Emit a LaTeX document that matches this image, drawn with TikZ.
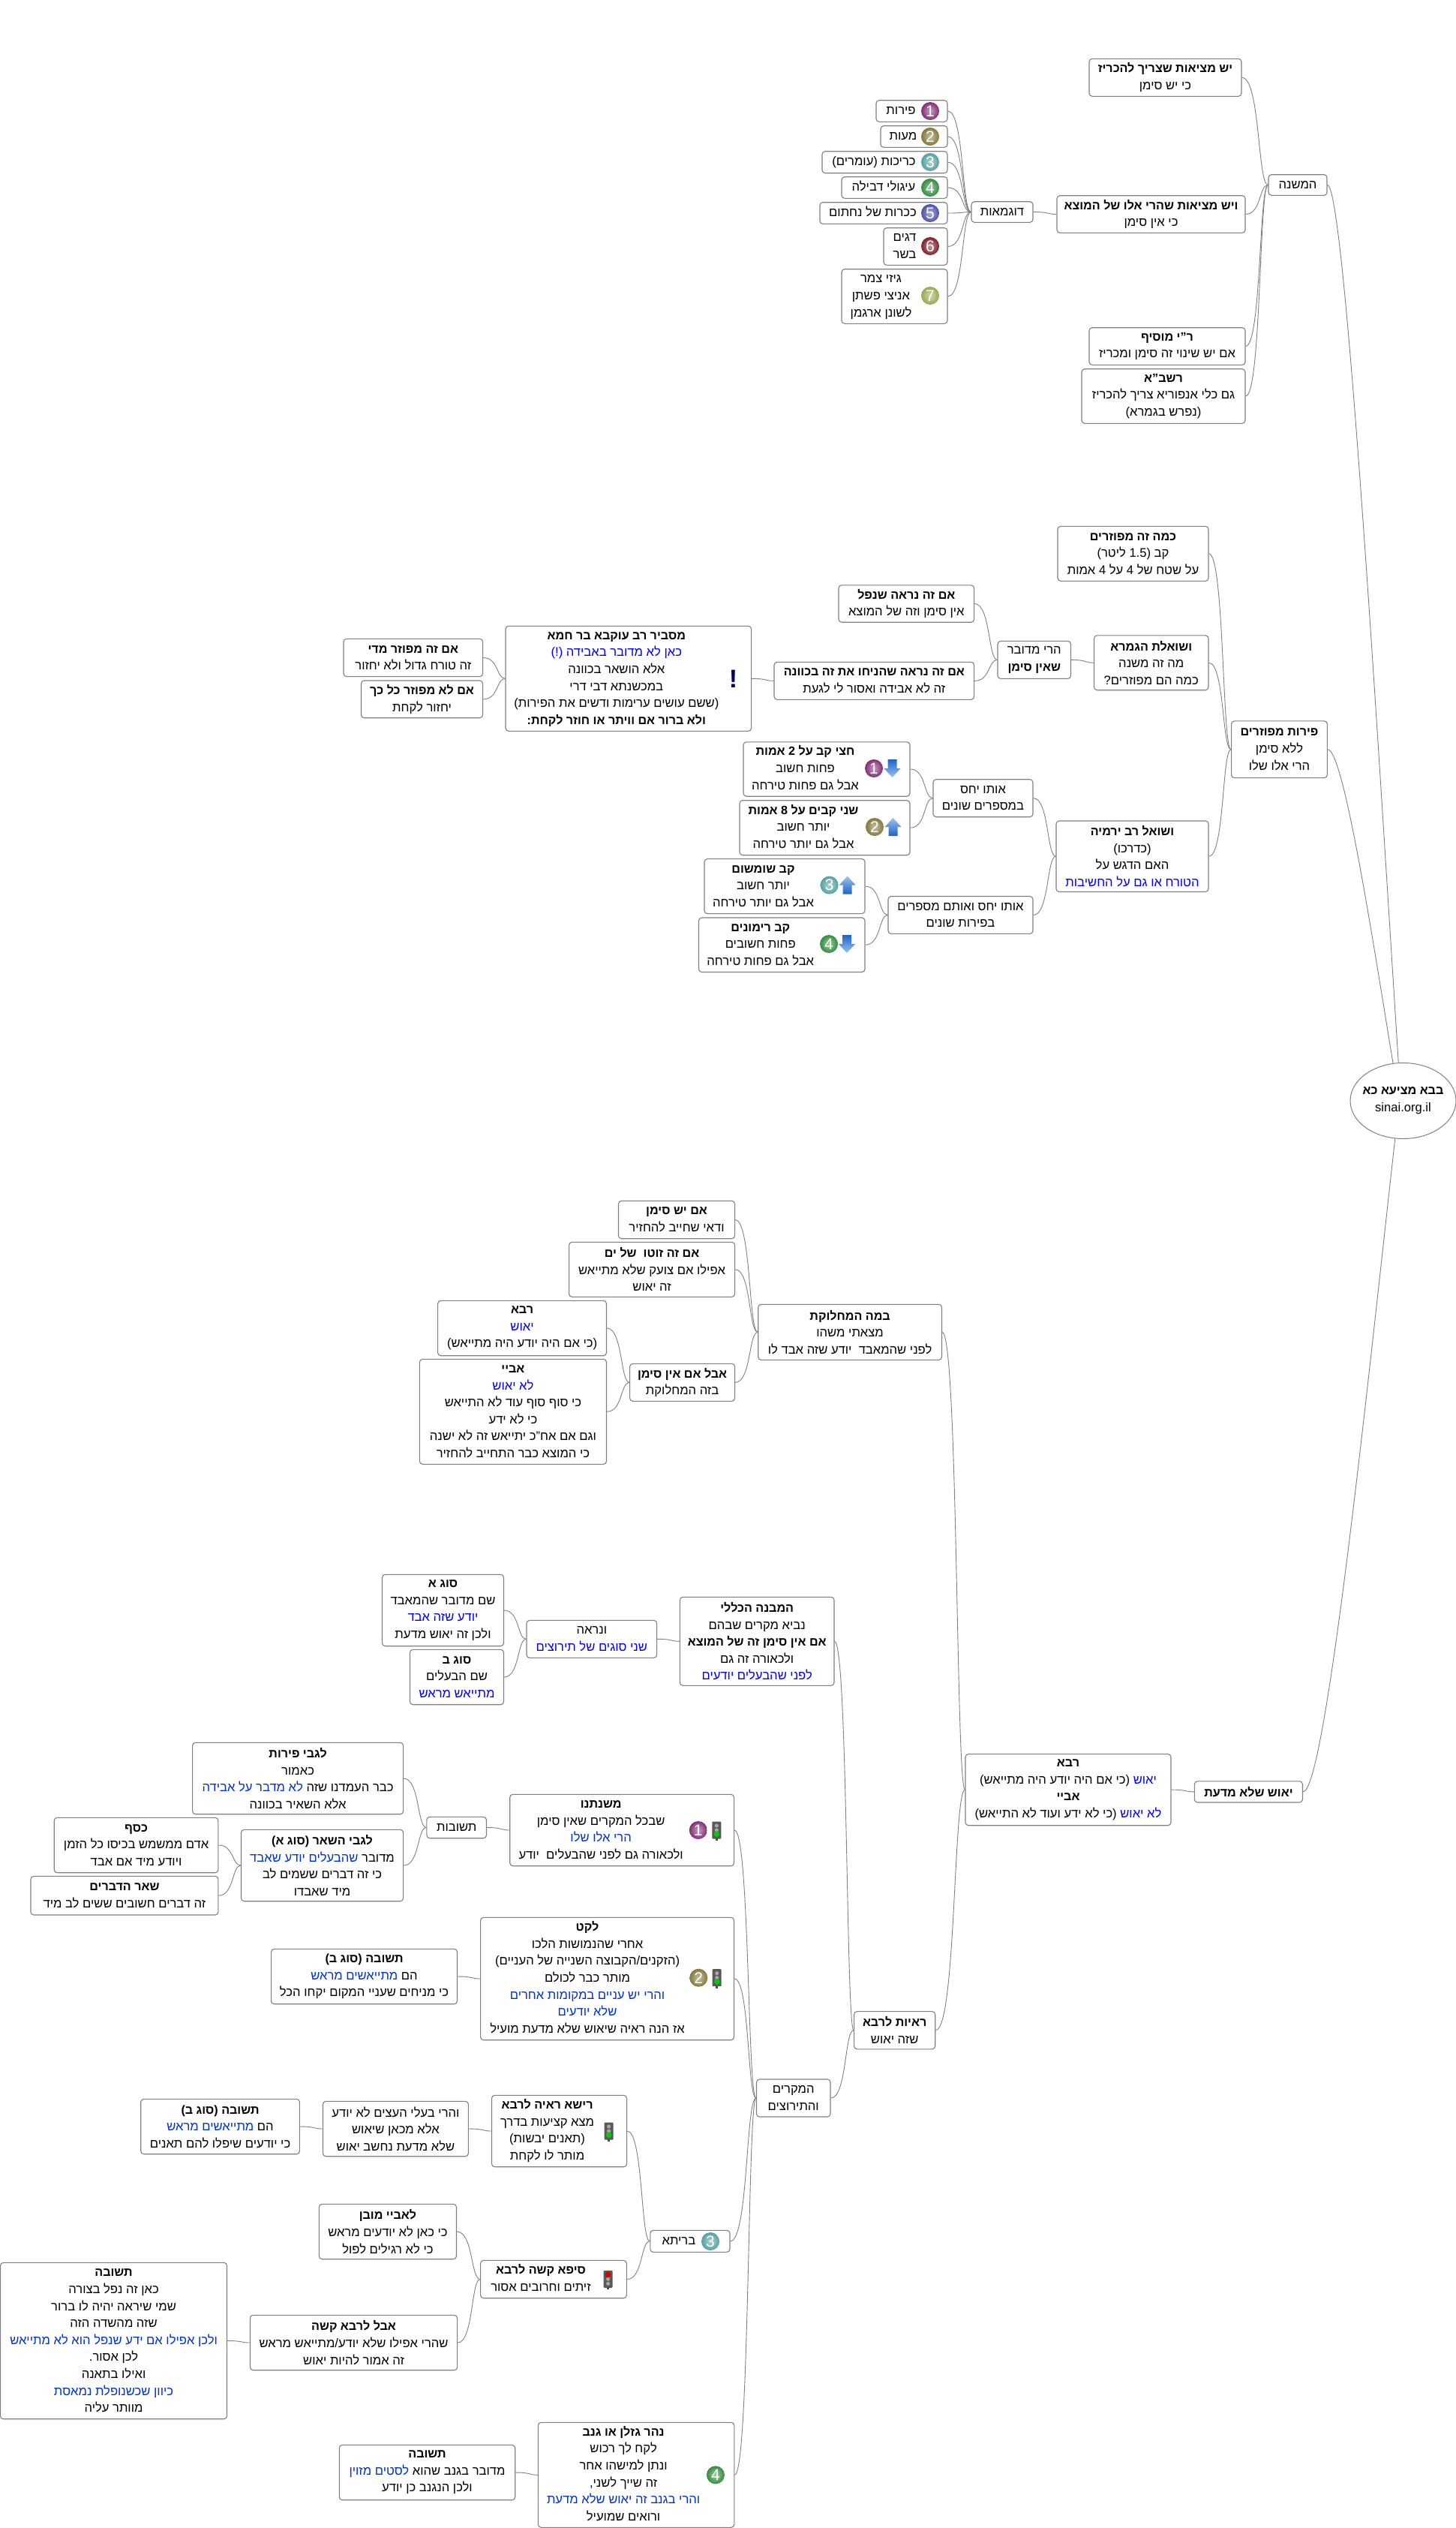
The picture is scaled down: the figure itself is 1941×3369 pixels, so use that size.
\documentclass[tikz,border=0pt]{standalone}
\usepackage{fontspec}
\usepackage{xcolor}
\usetikzlibrary{calc,shapes.geometric}
\setmainfont{Liberation Sans}[Script=Hebrew]
\newfontfamily\latf{Liberation Sans}
\TeXXeTstate=1
\definecolor{mapblue}{RGB}{0, 0, 255}
\definecolor{mapblued}{RGB}{0, 51, 204}
\definecolor{mapgray}{RGB}{128, 128, 128}
\definecolor{arrowlight}{RGB}{156, 195, 238}
\definecolor{arrowdark}{RGB}{31, 98, 196}
\definecolor{ballpurple}{RGB}{130, 45, 115}
\definecolor{ballolive}{RGB}{130, 120, 60}
\definecolor{ballteal}{RGB}{85, 160, 160}
\definecolor{ballgreen}{RGB}{50, 140, 60}
\definecolor{ballviolet}{RGB}{75, 80, 170}
\definecolor{ballred}{RGB}{125, 30, 40}
\definecolor{ballyellow}{RGB}{150, 170, 80}
\newcommand{\he}[1]{\beginR #1\endR}
\newcommand{\hb}[1]{{\fontsize{8.05}{11.3}\selectfont\bfseries\beginR #1\endR}}
\newcommand{\hc}[1]{{\color{mapblue}\beginR #1\endR}}
\newcommand{\hd}[1]{{\color{mapblued}\beginR #1\endR}}
\newcommand{\iconpad}[2]{\begin{tabular}{@{}c@{}}#2\end{tabular}\rule{#1pt}{0pt}}
% name, left, right, top, bottom, text
\newcommand{\mapnode}[6]{\node[mapbox, minimum width={(#3-#2)*0.5pt}, minimum height={(#5-#4)*0.5pt}] (#1) at ({(#2+#3)/2},{(#4+#5)/2}) {#6};}
% name, x, y, lamp colour, lamp offset
\newcommand{\maplight}[5]{
\node[lightbody] (#1) at (#2,#3) {};
\fill[black!70] (#2-1.5,#3+11) rectangle (#2+1.5,#3+14);
\foreach \dy in {-6,0,6} {\fill[gray!70] (#2,#3+\dy) circle (1.3pt);}
\fill[#4] (#2,#3+#5) circle (1.9pt);
}
% x, y, direction (1 up, -1 down), top colour, bottom colour
\newcommand{\maparrow}[5]{
\shade[top color=#4, bottom color=#5] (#1,#2-12*#3) -- (#1+11,#2) -- (#1+6,#2) -- (#1+6,#2+12*#3) -- (#1-6,#2+12*#3) -- (#1-6,#2) -- (#1-11,#2) -- cycle;
}
\tikzset{
  mapbox/.style={draw=mapgray, fill=white, rounded corners=2pt, line width=0.55pt, align=center, inner sep=1pt,
    font=\fontsize{8.3}{11.3}\selectfont},
  rootnode/.style={draw=mapgray, fill=white, ellipse, line width=0.5pt, align=center, inner sep=-2pt,
    font=\fontsize{8.3}{11.3}\selectfont},
  numball/.style={circle, inner color=#1!45!white, outer color=#1, text=white, inner sep=0pt, minimum size=12pt,
    font=\fontsize{10.5}{10.5}\latf},
  lightbody/.style={fill=black!65, rounded corners=0.5pt, minimum width=6pt, minimum height=11.5pt, inner sep=0pt},
  markicon/.style={text=blue!40!black, inner sep=0pt, font=\fontsize{17}{17}\bfseries\latf},
  link/.style={draw=mapgray, line width=0.45pt, to path={let \p1=(\tikztostart), \p2=(\tikztotarget) in
    .. controls ({\x1+0.7*(\x2-\x1)},\y1) and ({\x1+0.6*(\x2-\x1)},\y2) .. (\tikztotarget)}},
  rootlink/.style={draw=mapgray, line width=0.45pt, to path={let \p1=(\tikztostart), \p2=(\tikztotarget) in
    .. controls ({\x1+0.25*(\x2-\x1)},\y1) and ({\x1+0.72*(\x2-\x1)},{\y1+0.65*(\y2-\y1)}) .. (\tikztotarget)}}
}
\begin{document}
\begin{tikzpicture}[x=0.5pt,y=-0.5pt]
\useasboundingbox (0,0) rectangle (1941,3369);

% root
\node[rootnode, minimum width=70.5pt, minimum height=50.5pt] (root) at (1870.5,1467) {\hb{בבא מציעא כא}\\{\latf sinai.org.il}};

% the mishna branch
\mapnode{mishna}{1691}{1769}{232.7}{260.3}{\he{המשנה}}
\mapnode{yeshA}{1452}{1655}{78.3}{128.3}{\hb{יש מציאות שצריך להכריז}\\\he{כי יש סימן}}
\mapnode{yeshB}{1409}{1660}{260.7}{310.3}{\hb{ויש מציאות שהרי אלו של המוצא}\\\he{כי אין סימן}}
\mapnode{ribi}{1452}{1660}{436.7}{486.3}{\hb{ר"י מוסיף}\\\he{אם יש שינוי זה סימן ומכריז}}
\mapnode{rashba}{1442}{1660}{491.7}{564.3}{\hb{רשב"א}\\\he{גם כלי אנפוריא צריך להכריז}\\\he{(נפרש בגמרא)}}
\mapnode{dugma}{1295}{1377}{268.7}{296.3}{\he{דוגמאות}}
\mapnode{itemA}{1168}{1263}{133.7}{162.3}{\iconpad{14.5}{\he{פירות}}}
\mapnode{itemB}{1174}{1263}{167.7}{196.3}{\iconpad{14.5}{\he{מעות}}}
\mapnode{itemC}{1096}{1263}{201.7}{230.7}{\iconpad{14.5}{\he{כריכות (עומרים)}}}
\mapnode{itemD}{1122}{1263}{235.7}{264.3}{\iconpad{14.5}{\he{עיגולי דבילה}}}
\mapnode{itemE}{1093}{1263}{269.7}{298.3}{\iconpad{14.5}{\he{ככרות של נחתום}}}
\mapnode{itemF}{1178}{1263}{303.7}{353.3}{\iconpad{14.5}{\he{דגים}\\\he{בשר}}}
\mapnode{itemG}{1122}{1263}{358.7}{431.3}{\iconpad{18}{\he{גיזי צמר}\\\he{אניצי פשתן}\\\he{לשונן ארגמן}}}
\foreach \i/\c/\y in {1/ballpurple/148,2/ballolive/182,3/ballteal/216,4/ballgreen/250,5/ballviolet/284,6/ballred/328,7/ballyellow/394} {
    \node[numball=\c] (ballT\i) at (1240,\y) {\i};
}

% scattered fruit
\mapnode{pirot}{1641.6}{1769.4}{960.9}{1036.6}{\hb{פירות מפוזרים}\\\he{ללא סימן}\\\he{הרי אלו שלו}}
\mapnode{kama}{1410}{1611}{701.4}{774.3}{\hb{כמה זה מפוזרים}\\\he{קב (\beginL 1.5\endL{} ליטר)}\\\he{על שטח של 4 על 4 אמות}}
\mapnode{shoelet}{1458.5}{1611}{846.8}{919.7}{\hb{ושואלת הגמרא}\\\he{מה זה משנה}\\\he{כמה הם מפוזרים?}}
\mapnode{yirmiya}{1408}{1611}{1094}{1188.5}{\hb{ושואל רב ירמיה}\\\he{(כדרכו)}\\\he{האם הדגש על}\\\hc{הטורח או גם על החשיבות}}
\mapnode{harei}{1330}{1427.5}{854.4}{904.4}{\he{הרי מדובר}\\\hb{שאין סימן}}
\mapnode{nafal}{1118}{1298.6}{779.8}{829.2}{\hb{אם זה נראה שנפל}\\\he{אין סימן וזה של המוצא}}
\mapnode{hiniach}{1032}{1298.6}{882.4}{932.3}{\hb{אם זה נראה שהניחו את זה בכוונה}\\\he{זה לא אבידה ואסור לי לגעת}}
\mapnode{masbir}{674}{1001.6}{834.3}{974.3}{\iconpad{16}{\hb{מסביר רב עוקבא בר חמא}\\\hc{כאן לא מדובר באבידה (!)}\\\he{אלא הושאר בכוונה}\\\he{במכשנתא דבי דרי}\\\he{(ששם עושים ערימות ודשים את הפירות)}\\\hb{ולא ברור אם וויתר או חוזר לקחת:}}}
\node[markicon] (mark) at (977.5,904.5) {!};
\mapnode{madai}{458}{643.6}{851.4}{901.6}{\hb{אם זה מפוזר מדי}\\\he{זה טורח גדול ולא יחזור}}
\mapnode{kolkach}{481.5}{643.6}{907}{956.7}{\hb{אם לא מפוזר כל כך}\\\he{יחזור לקחת}}
\mapnode{otoA}{1244}{1377}{1038.7}{1088.7}{\he{אותו יחס}\\\he{במספרים שונים}}
\mapnode{otoB}{1184}{1377}{1194.5}{1244.4}{\he{אותו יחס ואותם מספרים}\\\he{בפירות שונים}}
\mapnode{chatzi}{991}{1213}{988.8}{1061.2}{\iconpad{28.5}{\hb{חצי קב על 2 אמות}\\\he{פחות חשוב}\\\he{אבל גם פחות טירחה}}}
\mapnode{shnei}{986}{1213}{1066.7}{1139.7}{\iconpad{28.5}{\hb{שני קבים על 8 אמות}\\\he{יותר חשוב}\\\he{אבל גם יותר טירחה}}}
\mapnode{shumshum}{939}{1153}{1144.6}{1217.6}{\iconpad{28.5}{\hb{קב שומשום}\\\he{יותר חשוב}\\\he{אבל גם יותר טירחה}}}
\mapnode{rimon}{931.5}{1153}{1223}{1295.5}{\iconpad{28.5}{\hb{קב רימונים}\\\he{פחות חשובים}\\\he{אבל גם פחות טירחה}}}
\node[numball=ballpurple] (ballA) at (1165,1024) {1};
\node[numball=ballolive] (ballB) at (1166,1102) {2};
\node[numball=ballteal] (ballC) at (1105.6,1179.6) {3};
\node[numball=ballgreen] (ballD) at (1105,1258) {4};
\maparrow{1189.5}{1024}{-1}{arrowdark}{arrowlight}
\maparrow{1190.5}{1102}{1}{arrowlight}{arrowdark}
\maparrow{1129.7}{1179.6}{1}{arrowlight}{arrowdark}
\maparrow{1129}{1258}{-1}{arrowdark}{arrowlight}

% yeush shelo midaat
\mapnode{yeush}{1592.4}{1736.5}{2373.8}{2402}{\hb{יאוש שלא מדעת}}
\mapnode{ravaMain}{1287}{1561}{2337.6}{2432.7}{\hb{רבא}\\\he{(כי אם היה יודע היה מתייאש)} \hc{יאוש}\\\hb{אביי}\\\he{(כי לא ידע ועוד לא התייאש)} \hc{לא יאוש}}
\mapnode{bameh}{1010.7}{1255.5}{1738.3}{1812.3}{\hb{במה המחלוקת}\\\he{מצאתי משהו}\\\he{לפני שהמאבד~~יודע שזה אבד לו}}
\mapnode{yeshsiman}{824.5}{979.6}{1600.3}{1650.7}{\hb{אם יש סימן}\\\he{ודאי שחייב להחזיר}}
\mapnode{zuto}{758.6}{979.6}{1655.3}{1728.3}{\hb{אם זה זוטו~~של ים}\\\he{אפילו אם צועק שלא מתייאש}\\\he{זה יאוש}}
\mapnode{avalim}{839.6}{979.6}{1817.3}{1867.3}{\hb{אבל אם אין סימן}\\\he{בזה המחלוקת}}
\mapnode{rava}{583.6}{808.5}{1733.3}{1806.7}{\hb{רבא}\\\hc{יאוש}\\\he{(כי אם היה יודע היה מתייאש)}}
\mapnode{abaye}{559.4}{808.5}{1811.3}{1951.3}{\hb{אביי}\\\hc{לא יאוש}\\\he{כי סוף סוף עוד לא התייאש}\\\he{כי לא ידע}\\\he{וגם אם אח"כ יתייאש זה לא ישנה}\\\he{כי המוצא כבר התחייב להחזיר}}

\mapnode{mivne}{906.4}{1112}{2128.3}{2246.3}{\hb{המבנה הכללי}\\\he{נביא מקרים שבהם}\\\hb{אם אין סימן זה של המוצא}\\\he{ולכאורה זה גם}\\\hc{לפני שהבעלים יודעים}}
\mapnode{venire}{702}{875.6}{2159.3}{2209.3}{\he{ונראה}\\\hc{שני סוגים של תירוצים}}
\mapnode{sugA}{509.5}{671.5}{2098.3}{2193.7}{\hb{סוג א}\\\he{שם מדובר שהמאבד}\\\hc{יודע שזה אבד}\\\he{ולכן זה יאוש מדעת}}
\mapnode{sugB}{546.5}{671.5}{2198.3}{2271.7}{\hb{סוג ב}\\\he{שם הבעלים}\\\hc{מתייאש מראש}}

% proofs for rava
\mapnode{reayot}{1138.6}{1246.7}{2680.6}{2730.8}{\hb{ראיות לרבא}\\\he{שזה יאוש}}
\mapnode{mikrim}{1008.5}{1107}{2771}{2821}{\he{המקרים}\\\he{והתירוצים}}
\mapnode{mishnatenu}{679.7}{978.6}{2391.3}{2486.7}{\iconpad{28}{\hb{משנתנו}\\\he{שבכל המקרים שאין סימן}\\\hd{הרי אלו שלו}\\\he{ולכאורה גם לפני שהבעלים~~יודע}}}
\node[numball=ballpurple] (ballE) at (930.8,2439) {1};
\maplight{lightA}{955.3}{2439}{green!80!black}{5}
\mapnode{teshuvot}{568.9}{648.5}{2421.3}{2449.7}{\he{תשובות}}
\mapnode{legabei}{256.6}{537.6}{2322.3}{2417.7}{\hb{לגבי פירות}\\\he{כאמור}\\\hd{לא מדבר על אבידה} \he{כבר העמדנו שזה}\\\he{אלא השאיר בכוונה}}
\mapnode{hashar}{321.5}{537.6}{2438.3}{2533.7}{\hb{לגבי השאר (סוג א)}\\\hd{שהבעלים יודע שאבד} \he{מדובר}\\\he{כי זה דברים ששמים לב}\\\he{מיד שאבדו}}
\mapnode{kesef}{72.2}{290.9}{2422.3}{2495.7}{\hb{כסף}\\\he{אדם ממשמש בכיסו כל הזמן}\\\he{ויודע מיד אם אבד}}
\mapnode{shear}{41}{290.9}{2500.3}{2552}{\hb{שאר הדברים}\\\he{זה דברים חשובים ששים לב מיד}}

\mapnode{leket}{640.6}{978.5}{2555.3}{2718.7}{\iconpad{26.5}{\hb{לקט}\\\he{אחרי שהנמושות הלכו}\\\he{(הזקנים/הקבוצה השנייה של העניים)}\\\he{מותר כבר לכולם}\\\hd{והרי יש עניים במקומות אחרים}\\\hd{שלא יודעים}\\\he{אז הנה ראיה שיאוש שלא מדעת מועיל}}}
\node[numball=ballolive] (ballF) at (931.3,2635.7) {2};
\maplight{lightB}{955.7}{2635.7}{green!80!black}{5}
\mapnode{teshB}{361.6}{609.5}{2597.3}{2670.7}{\hb{תשובה (סוג ב)}\\\hd{מתייאשים מראש} \he{הם}\\\he{כי מניחים שעניי המקום יקחו הכל}}

\mapnode{beraita}{866.8}{973}{2972.3}{3001.3}{\iconpad{15}{\he{בריתא}}}
\node[numball=ballteal] (ballG) at (947,2987) {3};
\mapnode{reisha}{655.5}{835.6}{2792.3}{2887.7}{\iconpad{16}{\hb{רישא ראיה לרבא}\\\he{מצא קציעות בדרך}\\\he{(תאנים יבשות)}\\\he{מותר לו לקחת}}}
\maplight{lightC}{811.6}{2840}{green!80!black}{5}
\mapnode{baalei}{430.5}{624.4}{2800.3}{2873.7}{\he{והרי בעלי העצים לא יודע}\\\he{אלא מכאן שיאוש}\\\he{שלא מדעת נחשב יאוש}}
\mapnode{teshC}{187.7}{399.4}{2797.3}{2870.7}{\hb{תשובה (סוג ב)}\\\hd{מתייאשים מראש} \he{הם}\\\he{כי יודעים שיפלו להם תאנים}}
\mapnode{seifa}{640.6}{835.3}{3012.3}{3062.7}{\iconpad{17}{\hb{סיפא קשה לרבא}\\\he{זיתים וחרובים אסור}}}
\maplight{lightD}{810.6}{3037.3}{red!85!black}{-6}
\mapnode{leabaye}{425.4}{608.5}{2937.3}{3010.7}{\hb{לאביי מובן}\\\he{כי כאן לא יודעים מראש}\\\he{כי לא רגילים לפול}}
\mapnode{lerava}{333.5}{609.6}{3085.3}{3158.7}{\hb{אבל לרבא קשה}\\\he{שהרי אפילו שלא יודע/מתייאש מראש}\\\he{זה אמור להיות יאוש}}
\mapnode{teshD}{0.6}{302.5}{3015.3}{3223.7}{\hb{תשובה}\\\he{כאן זה נפל בצורה}\\\he{שמי שיראה יהיה לו ברור}\\\he{שזה מהשדה הזה}\\\hd{ולכן אפילו אם ידע שנפל הוא לא מתייאש}\\\he{לכן אסור.}\\\he{ואילו בתאנה}\\\hd{כיוון שכשנופלת נמאסת}\\\he{מוותר עליה}}

\mapnode{nahar}{717.4}{978.8}{3228.3}{3368.3}{\iconpad{17}{\hb{נהר גזלן או גנב}\\\he{לקח לך רכוש}\\\he{ונתן למישהו אחר}\\\he{זה שייך לשני,}\\\hd{והרי בגנב זה יאוש שלא מדעת}\\\he{ורואים שמועיל}}}
\node[numball=ballgreen] (ballH) at (953.9,3298.3) {4};
\mapnode{teshE}{452.3}{686.7}{3258.3}{3331.7}{\hb{תשובה}\\\hd{לסטים מזוין} \he{מדובר בגנב שהוא}\\\he{ולכן הנגנב כן יודע}}

% links to the root
\draw[rootlink] (mishna.east) to (root.97);
\draw[rootlink] (pirot.east) to (root.105);
\draw[rootlink] (yeush.east) to (root.258);

% links between boxes
\foreach \kid/\boss in {yeshA/mishna,yeshB/mishna,ribi/mishna,rashba/mishna,dugma/yeshB,itemA/dugma,itemB/dugma,itemC/dugma,itemD/dugma,itemE/dugma,itemF/dugma,itemG/dugma,
    kama/pirot,shoelet/pirot,yirmiya/pirot,harei/shoelet,nafal/harei,hiniach/harei,masbir/hiniach,madai/masbir,kolkach/masbir,otoA/yirmiya,otoB/yirmiya,chatzi/otoA,shnei/otoA,shumshum/otoB,rimon/otoB,
    ravaMain/yeush,bameh/ravaMain,reayot/ravaMain,yeshsiman/bameh,zuto/bameh,avalim/bameh,rava/avalim,abaye/avalim,
    mivne/reayot,mikrim/reayot,venire/mivne,sugA/venire,sugB/venire,
    mishnatenu/mikrim,leket/mikrim,beraita/mikrim,nahar/mikrim,teshuvot/mishnatenu,legabei/teshuvot,hashar/teshuvot,kesef/hashar,shear/hashar,teshB/leket,
    reisha/beraita,seifa/beraita,baalei/reisha,teshC/baalei,leabaye/seifa,lerava/seifa,teshD/lerava,teshE/nahar} {
    \draw[link] (\kid.east) to (\boss.west);
}
\end{tikzpicture}
\end{document}
